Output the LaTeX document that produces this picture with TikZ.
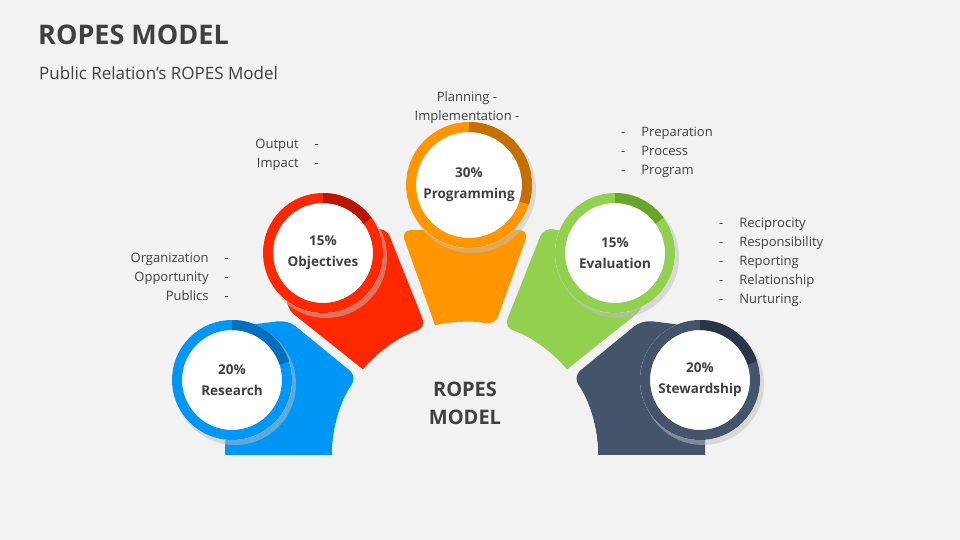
\documentclass[tikz,border=0pt]{standalone}
\usepackage{fontspec}
\setmainfont{Open Sans}
\usetikzlibrary{calc}
\definecolor{bg}{RGB}{242,242,242}
\definecolor{cB}{RGB}{0,150,245}\definecolor{dB}{RGB}{0,112,190}
\definecolor{cR}{RGB}{255,40,0}\definecolor{dR}{RGB}{185,22,0}
\definecolor{cO}{RGB}{255,150,0}\definecolor{dO}{RGB}{196,112,0}
\definecolor{cG}{RGB}{146,208,80}\definecolor{dG}{RGB}{105,165,40}
\definecolor{cS}{RGB}{68,84,106}\definecolor{dS}{RGB}{42,54,72}
\definecolor{tx}{RGB}{64,64,64}
\tikzset{
 lbl/.style={font=\fontsize{13}{19}\selectfont,text=tx,align=left,inner sep=0pt},
 clbl/.style={font=\bfseries\fontsize{13.5}{19}\selectfont,text=tx,align=center,inner sep=0pt}
}
\newcommand{\ringc}[6]{% pos, radius, color, dark, degrees, name
 \fill[black!25,opacity=.5] ($(#1)+(3,-4)$) circle (#2+1);
 \fill[white] (#1) circle (#2);
 \draw[#3,line width=10pt] (#1) circle (#2-5);
 \draw[#4,line width=10pt] ($(#1)+(90:#2-5)$) arc[start angle=90,end angle=90-#5,radius=#2-5];
 \coordinate (#6) at (#1);
}
\begin{document}
\begin{tikzpicture}[x=1pt,y=1pt]
\fill[bg] (0,0) rectangle (960,540);
\useasboundingbox (0,0) rectangle (960,540);
\coordinate (C) at (465,85);
\node[anchor=west,font=\bfseries\fontsize{27}{30}\selectfont,text=tx,inner sep=0pt] (title) at (38,505) {ROPES MODEL};
\node[anchor=west,font=\fontsize{17}{20}\selectfont,text=tx,inner sep=0pt] (sub) at (39,467) {Public Relation’s ROPES Model};
% segments
\fill[cB,rounded corners=10] (225,85) -- (225,212) -- (288,220) -- ($(C)+(144:133)$) [sharp corners] arc[start angle=144,end angle=180,radius=133] -- cycle;
\fill[cR,rounded corners=10] ($(C)+(140:133)$) -- (286,232) -- (290,290) -- (386,313) -- ($(C)+(107:133)$) [sharp corners] arc[start angle=107,end angle=140,radius=133] -- cycle;
\fill[cO,rounded corners=10] ($(C)+(103:133)$) -- (401,310) -- (529,310) -- ($(C)+(77:133)$) [sharp corners] arc[start angle=77,end angle=103,radius=133] -- cycle;
\fill[cG,rounded corners=10] ($(C)+(40:133)$) -- (644,232) -- (640,290) -- (544,313) -- ($(C)+(73:133)$) [sharp corners] arc[start angle=73,end angle=40,radius=133] -- cycle;
\fill[cS,rounded corners=10] (705,85) -- (705,212) -- (642,220) -- ($(C)+(36:133)$) [sharp corners] arc[start angle=36,end angle=0,radius=133] -- cycle;
\fill[bg] ($(C)+(-133,0)$) arc[start angle=180,end angle=0,radius=133] -- cycle;
\node[font=\bfseries\fontsize{20}{28}\selectfont,text=tx,align=center] (center) at (465,137) {ROPES\\MODEL};
% rings
\ringc{232,160}{60}{cB}{dB}{72}{research}
\ringc{323,287}{60}{cR}{dR}{54}{objectives}
\ringc{469,355}{63}{cO}{dO}{108}{programming}
\ringc{615,287}{60}{cG}{dG}{54}{evaluation}
\ringc{700,160}{60}{cS}{dS}{72}{stewardship}
\node[clbl] (t1) at (research) {20\%\\[2pt]Research};
\node[clbl] (t2) at (objectives) {15\%\\[2pt]Objectives};
\node[clbl] (t3) at (programming) {30\%\\[2pt]Programming};
\node[clbl] (t4) at (evaluation) {15\%\\[2pt]Evaluation};
\node[clbl] (t5) at (stewardship) {20\%\\[2pt]Stewardship};
% labels
\node[lbl,align=right,anchor=north east] (l1) at (229,287) {Organization\hspace{16pt}-\\Opportunity\hspace{16pt}-\\Publics\hspace{16pt}-};
\node[lbl,align=right,anchor=north east] (l2) at (319,401) {Output\hspace{16pt}-\\Impact\hspace{16pt}-};
\node[lbl,align=center,anchor=north] (l3) at (467,449) {Planning -\\Implementation -};
\node[lbl,anchor=north west] (l4) at (621,413) {-\hspace{16pt}Preparation\\-\hspace{16pt}Process\\-\hspace{16pt}Program};
\node[lbl,anchor=north west] (l5) at (719,322) {-\hspace{16pt}Reciprocity\\-\hspace{16pt}Responsibility\\-\hspace{16pt}Reporting\\-\hspace{16pt}Relationship\\-\hspace{16pt}Nurturing.};
\end{tikzpicture}
\end{document}
